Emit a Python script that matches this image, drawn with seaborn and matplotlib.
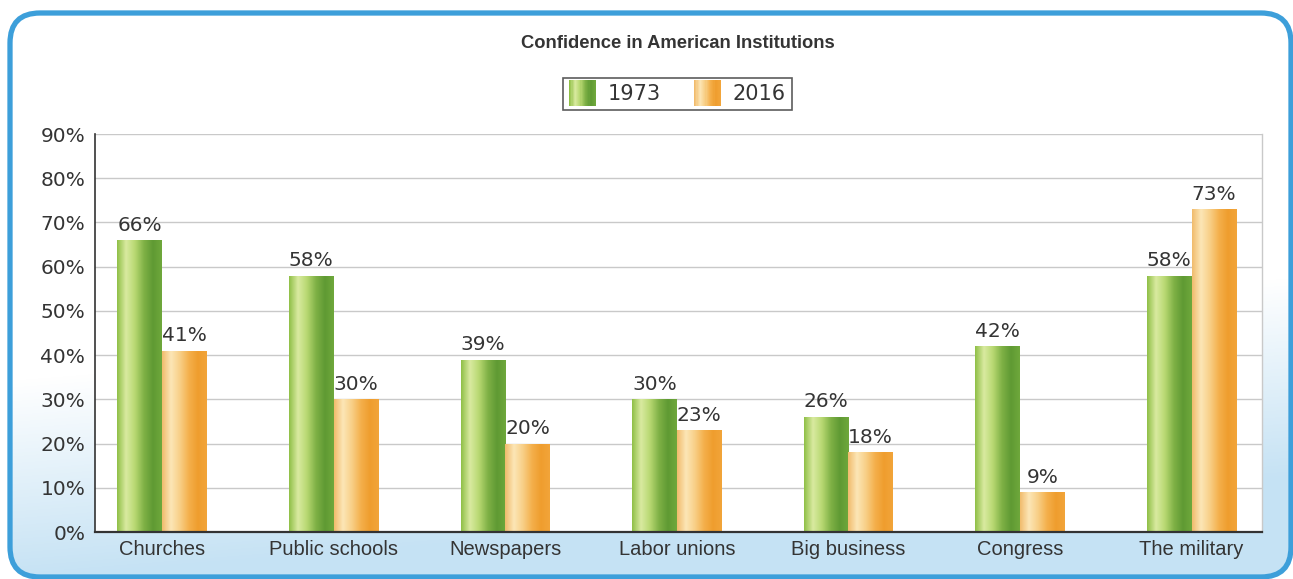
import numpy as np
import pandas as pd
import matplotlib
matplotlib.use("Agg")
import matplotlib.pyplot as plt
import seaborn as sns
from matplotlib.patches import FancyBboxPatch, Rectangle, Patch
from matplotlib.colors import LinearSegmentedColormap
from matplotlib.legend_handler import HandlerBase

# ---- data -------------------------------------------------------------
institutions = ["Churches", "Public schools", "Newspapers", "Labor unions",
                "Big business", "Congress", "The military"]
years = ["1973", "2016"]
conf_1973 = [66, 58, 39, 30, 26, 42, 58]
conf_2016 = [41, 30, 20, 23, 18, 9, 73]
y_ticks = [0, 10, 20, 30, 40, 50, 60, 70, 80, 90]

df = pd.DataFrame({
    "institution": institutions * 2,
    "year": [years[0]] * len(institutions) + [years[1]] * len(institutions),
    "value": conf_1973 + conf_2016,
})

# ---- styling ----------------------------------------------------------
sns.set_style("white")
plt.rcParams["font.family"] = ["DejaVu Sans"]
TEXT = "#343434"
GRID = "#c9c9c9"
BORDER = "#3d9fda"
BAND = np.array([197, 226, 244]) / 255.0

green_cmap = LinearSegmentedColormap.from_list(
    "green_bar", ["#8fbf46", "#d9eaa0", "#b8d872", "#7fb146", "#5f9a33", "#6fa83c"])
orange_cmap = LinearSegmentedColormap.from_list(
    "orange_bar", ["#f1bb6c", "#fce6b6", "#f8cf87", "#f4b04c", "#ef9d2e", "#f2a53a"])
palette = {"1973": "#8dbf45", "2016": "#f2a640"}
cmaps = {"1973": green_cmap, "2016": orange_cmap}

W, H = 1293, 579
fig = plt.figure(figsize=(W / 100, H / 100), dpi=100)

# ---- rounded frame with a soft blue wash toward the bottom ----------------
bg = fig.add_axes([0, 0, 1, 1], zorder=-10)
bg.set_xlim(0, W)
bg.set_ylim(0, H)
bg.axis("off")
yy, xx = np.mgrid[0:H, 0:W]
from_top = H - yy
t = np.clip((from_top - 330 + 0.08 * (xx - 650)) / 200.0, 0, 1)[..., None]
img = (1 - t) * np.ones(3) + t * BAND
frame = FancyBboxPatch((10, 2), W - 12, H - 15,
                       boxstyle="round,pad=0,rounding_size=30",
                       facecolor="none", edgecolor=BORDER, linewidth=3.8,
                       zorder=5)
bg.add_patch(frame)
im = bg.imshow(img, extent=[0, W, 0, H], origin="lower", aspect="auto", zorder=1)
im.set_clip_path(frame)

# ---- main axes --------------------------------------------------------
ax = fig.add_axes([95 / W, 1 - 532 / H, (1262 - 95) / W, (532 - 134) / H])
ax.set_facecolor("white")
sns.barplot(data=df, x="institution", y="value", hue="year",
            order=institutions, hue_order=years, palette=palette,
            width=0.52, gap=0, saturation=1, linewidth=0, ax=ax,
            legend=False)

ax.set_xlim(-0.39, 6.41)
ax.set_ylim(0, 90)

# gradient fill for each bar plus its value label
for container, year in zip(ax.containers, years):
    grad = cmaps[year](np.linspace(0, 1, 256))[None, :, :3]
    for bar in container:
        x0 = bar.get_x()
        w = bar.get_width()
        h = bar.get_height()
        gim = ax.imshow(grad, extent=[x0, x0 + w, 0, h], aspect="auto",
                        zorder=bar.get_zorder() + 0.1, interpolation="bilinear")
        gim.set_clip_path(bar)
        ax.annotate(f"{h:.0f}%", (x0 + w / 2, h), xytext=(0, 4),
                    textcoords="offset points", ha="center", va="bottom",
                    fontsize=14.5, color=TEXT)

ax.set_xlim(-0.39, 6.41)
ax.set_ylim(0, 90)
ax.set_yticks(y_ticks)
ax.set_yticklabels([f"{v}%" for v in y_ticks])
ax.set_axisbelow(True)
ax.yaxis.grid(True, color=GRID, linewidth=1)
ax.xaxis.grid(False)
ax.tick_params(axis="y", length=0, pad=7, labelsize=14.5, labelcolor=TEXT)
ax.tick_params(axis="x", length=0, pad=6, labelsize=14.5, labelcolor=TEXT)
for lab in ax.get_xticklabels():
    lab.set_fontfamily(["Liberation Sans", "DejaVu Sans"])
ax.set_xlabel("")
ax.set_ylabel("")
ax.spines["top"].set_visible(False)
ax.spines["right"].set_color(GRID)
ax.spines["right"].set_linewidth(1)
ax.spines["left"].set_color("#333333")
ax.spines["left"].set_linewidth(1.2)
ax.spines["bottom"].set_color("#333333")
ax.spines["bottom"].set_linewidth(1.6)

# ---- title and legend -------------------------------------------------
fig.text(0.524, 1 - 44 / H, "Confidence in American Institutions",
         ha="center", va="center", fontsize=13.2, fontweight="bold", color=TEXT,
         family=["Liberation Sans Narrow", "Liberation Sans", "DejaVu Sans"])


class GradientSwatch(HandlerBase):
    def __init__(self, cmap):
        super().__init__()
        self.cmap = cmap

    def create_artists(self, legend, orig_handle, xdescent, ydescent,
                       width, height, fontsize, trans):
        n = 24
        step = width / n
        arts = []
        for i in range(n):
            r = Rectangle((-xdescent + i * step, -ydescent - 3), step * 1.15,
                          height + 6, facecolor=self.cmap(i / (n - 1)),
                          edgecolor="none", linewidth=0, transform=trans)
            arts.append(r)
        return arts


handles = [Patch(label=y) for y in years]
leg = fig.legend(handles=handles, labels=years, loc="center",
                 bbox_to_anchor=(0.524, 1 - 94 / H), ncol=2,
                 handler_map={handles[0]: GradientSwatch(green_cmap),
                              handles[1]: GradientSwatch(orange_cmap)},
                 fontsize=15, frameon=True, fancybox=False,
                 edgecolor="#333333", handlelength=1.3, handleheight=0.9,
                 handletextpad=0.55, columnspacing=1.6, borderpad=0.3)
leg.get_frame().set_linewidth(1.2)
for txt in leg.get_texts():
    txt.set_color(TEXT)

fig.savefig("out.png", dpi=100)
